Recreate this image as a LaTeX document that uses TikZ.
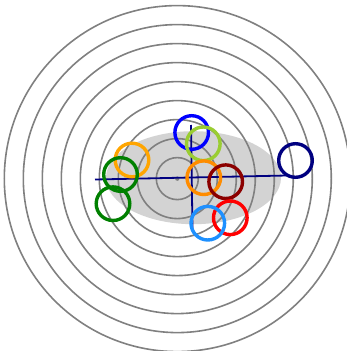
\documentclass[tikz,border=0pt]{standalone}
\usepackage{xcolor}
\definecolor{ringgray}{RGB}{128,128,128}
\definecolor{fillgray}{RGB}{211,211,211}
\definecolor{axisnavy}{RGB}{0,0,128}
\definecolor{cblue}{RGB}{0,0,255}
\definecolor{cyellowgreen}{RGB}{154,205,50}
\definecolor{corange}{RGB}{255,165,0}
\definecolor{cdarkorange}{RGB}{255,140,0}
\definecolor{cgreen}{RGB}{0,128,0}
\definecolor{cdarkred}{RGB}{139,0,0}
\definecolor{cred}{RGB}{255,0,0}
\definecolor{cdodger}{RGB}{30,144,255}
\definecolor{cnavy}{RGB}{0,0,128}
\begin{document}
\begin{tikzpicture}[x=1pt,y=-1pt,
  ring/.style={draw=ringgray,line width=1.6pt},
  axisline/.style={draw=axisnavy,line width=1.8pt},
  marker/.style={line width=3.4pt}]
\useasboundingbox (0,0) rectangle (346,351);
\fill[fillgray] (193.5,177.7) ellipse [x radius=87.5, y radius=46.5];
\foreach \k in {1,...,9}{
  \draw[ring] (177.3,178.6) circle ({19*\k+2});
}
\fill[ringgray] (177.3,178.6) circle (2.2);
\coordinate (hl) at (95,179.5);
\coordinate (hr) at (287,175.5);
\coordinate (vt) at (191,125);
\coordinate (vb) at (192.5,231);
\draw[axisline] (hl) -- (hr);
\draw[axisline] (vt) -- (vb);
\draw[marker,cblue] (191.7,132.5) circle (16.8);
\draw[marker,cyellowgreen] (203.3,143.8) circle (16.8);
\draw[marker,corange] (132,160) circle (16.8);
\draw[marker,cgreen] (120.5,174.5) circle (16.8);
\draw[marker,cgreen] (113,203.7) circle (16.8);
\draw[marker,cdarkorange] (203.8,177.7) circle (16.8);
\draw[marker,cdarkred] (225.7,181.7) circle (16.8);
\draw[marker,cred] (230.3,217.8) circle (16.8);
\draw[marker,cdodger] (207.8,223.2) circle (16.8);
\draw[marker,cnavy] (295.5,160.5) circle (16.8);
\end{tikzpicture}
\end{document}
